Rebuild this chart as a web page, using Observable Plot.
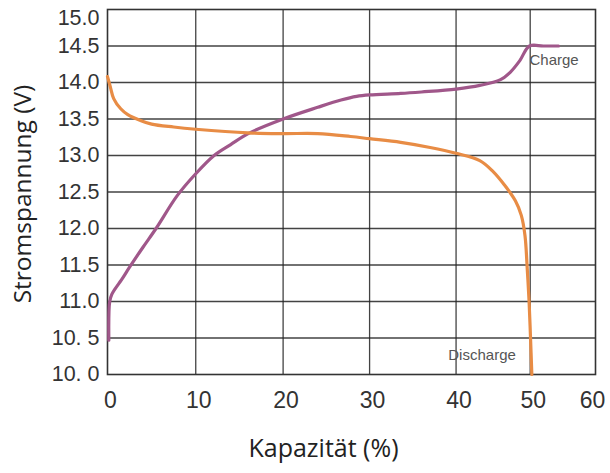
<!DOCTYPE html>
<html>
<head>
<meta charset="utf-8">
<script src="https://cdn.jsdelivr.net/npm/d3@7"></script>
<script src="https://cdn.jsdelivr.net/npm/@observablehq/plot@0.6"></script>
<style>
  html, body { margin: 0; padding: 0; background: #fff; }
  #chart svg { display: block; }
</style>
</head>
<body>
<div id="chart"></div>
<script>
// X ticks (capacity %)
const xTicks = [0, 10, 20, 30, 40, 50, 60];
const xTickLabels = ["0", "10", "20", "30", "40", "50", "60"];
const yTicks = [10, 10.5, 11, 11.5, 12, 12.5, 13, 13.5, 14, 14.5, 15];
const yTickLabels = ["10. 0", "10. 5", "11.0", "11.5", "12.0", "12.5", "13.0", "13.5", "14.0", "14.5", "15.0"];

// Discharge curve
const dischargeCapacity = [0, 0.3, 0.7, 1.5, 2.3, 3.75, 5, 7.5, 10, 16, 20, 24, 27.8, 30, 33.6, 37, 40, 43.2, 45, 46.5, 48, 48.8, 49.3, 49.6, 49.85, 50.05, 50.25];
const dischargeVoltage  = [14.08, 13.95, 13.78, 13.64, 13.56, 13.48, 13.43, 13.39, 13.36, 13.31, 13.30, 13.30, 13.26, 13.23, 13.18, 13.11, 13.03, 12.93, 12.78, 12.60, 12.38, 12.18, 11.90, 11.45, 11.00, 10.50, 10.00];

// Charge curve
const chargeCapacity = [0.15, 0.25, 0.5, 0.9, 1.6, 2.5, 4, 5.5, 7.9, 10, 12.1, 14, 16, 20, 24, 26.7, 28.5, 30, 33.6, 36, 40, 43.2, 46, 47.3, 48.6, 49.9, 52, 54.35];
const chargeVoltage  = [10.47, 11.0, 11.1, 11.18, 11.3, 11.47, 11.74, 12.0, 12.45, 12.75, 13.0, 13.15, 13.3, 13.5, 13.66, 13.76, 13.81, 13.83, 13.85, 13.87, 13.91, 13.96, 14.04, 14.14, 14.3, 14.5, 14.5, 14.5];

const seriesLabels = ["Charge", "Discharge"];

// The original axis is drawn with slightly uneven tick spacing; warp capacity accordingly
const warpStops = [0, 10, 19.9, 29.7, 39.5, 47.9, 55.3];
const warp = d3.scaleLinear().domain(xTicks).range(warpStops);

const discharge = dischargeCapacity.map((x, i) => ({x, y: dischargeVoltage[i]}));
const charge = chargeCapacity.map((x, i) => ({x, y: chargeVoltage[i]}));
const labels = [
  {x: 49.9, y: 14.3, text: seriesLabels[0]},
  {x: 39.1, y: 10.27, text: seriesLabels[1]}
];

const tickFont = "Liberation Sans, Arial, sans-serif";
const titleFont = "Open Sans, Noto Sans, sans-serif";
const wx = (d) => warp(d.x);
const fmtX = (v) => xTickLabels[warpStops.indexOf(v)];
const fmtY = (d) => yTickLabels[yTicks.indexOf(d)];

const chart = Plot.plot({
  width: 610,
  height: 473,
  marginLeft: 107,
  marginRight: 15,
  marginTop: 9,
  marginBottom: 99,
  style: {background: "#fff", overflow: "visible"},
  x: {domain: [warpStops[0], warpStops[warpStops.length - 1]]},
  y: {domain: [10, 15]},
  marks: [
    Plot.gridX(warpStops.slice(1, -1), {stroke: "#222", strokeOpacity: 0.85, strokeWidth: 1.3}),
    Plot.gridY(yTicks.slice(1, -1), {stroke: "#222", strokeOpacity: 0.85, strokeWidth: 1.3}),
    Plot.frame({stroke: "#333", strokeWidth: 1.6}),
    Plot.line(charge, {x: wx, y: "y", stroke: "#a0578a", strokeWidth: 3.2, curve: "catmull-rom"}),
    Plot.line(discharge, {x: wx, y: "y", stroke: "#e88c45", strokeWidth: 3.2, curve: "catmull-rom"}),
    Plot.text(labels, {x: wx, y: "y", text: "text", textAnchor: "start", fill: "#555", fontSize: 15, fontFamily: tickFont}),
    Plot.axisX({ticks: warpStops.slice(0, -1), tickSize: 0, tickPadding: 17, dx: 3, tickFormat: fmtX, fontSize: 23, fontFamily: tickFont, color: "#333", label: null}),
    Plot.axisX({ticks: warpStops.slice(-1), tickSize: 0, tickPadding: 17, dx: -3, tickFormat: fmtX, fontSize: 23, fontFamily: tickFont, color: "#333", label: null}),
    Plot.axisY({ticks: yTicks.slice(0, -1), tickSize: 0, tickPadding: 8, tickFormat: fmtY, fontSize: 21.5, fontFamily: tickFont, color: "#333", label: null}),
    Plot.axisY({ticks: [15], tickSize: 0, tickPadding: 8, dy: 9, tickFormat: fmtY, fontSize: 21.5, fontFamily: tickFont, color: "#333", label: null}),
    Plot.text(["Kapazität (%)"], {frameAnchor: "bottom", textAnchor: "middle", dx: -28, dy: 82, fontSize: 25, fontFamily: titleFont, fill: "#222"}),
    Plot.text(["Stromspannung (V)"], {frameAnchor: "left", textAnchor: "middle", dx: -84, dy: 2, rotate: -90, fontSize: 24.5, fontFamily: titleFont, fill: "#222"})
  ]
});
document.getElementById("chart").appendChild(chart);
</script>
</body>
</html>
